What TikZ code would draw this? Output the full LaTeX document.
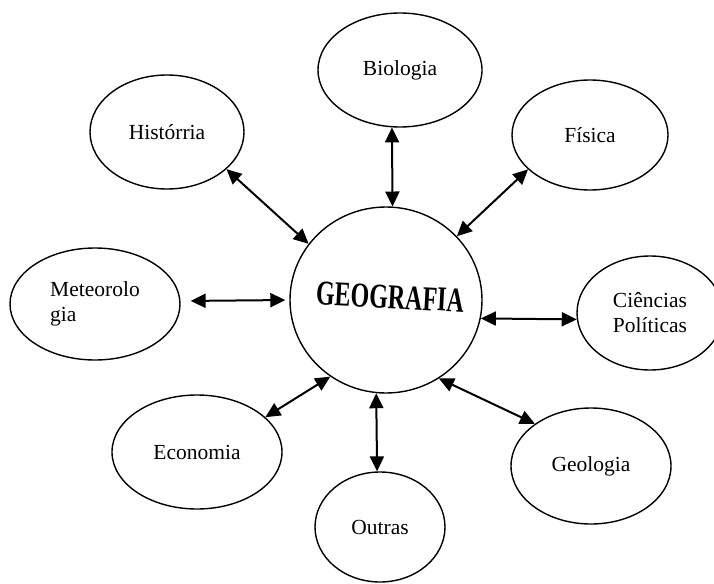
\documentclass[tikz,border=0pt]{standalone}
\usepackage{fontspec}
\setmainfont{Liberation Serif}
\usetikzlibrary{shapes.geometric,arrows.meta}
\begin{document}
\begin{tikzpicture}[x=1pt,y=-1pt,
  area/.style={ellipse,draw,line width=1.4pt,inner sep=0pt,font=\fontsize{21.5}{25}\selectfont},
  ligacao/.style={{Triangle[length=15pt,width=14pt]}-{Triangle[length=15pt,width=14pt]},line width=2pt}]
\useasboundingbox (0,0) rectangle (714,583);
% centro
\node[area,minimum width=192pt,minimum height=186pt] (geo) at (386,300) {};
\node[rotate=-3,font=\fontsize{24}{24}\bfseries\selectfont] (titulo) at (390,297) {\scalebox{1}[1.45]{GEOGRAFIA}};
% areas
\node[area,minimum width=164pt,minimum height=114pt] (bio) at (400,70) {Biologia};
\node[area,minimum width=154pt,minimum height=114pt] (his) at (167,132) {Histórria};
\node[area,minimum width=156pt,minimum height=110pt] (fis) at (590,135) {Física};
\node[area,minimum width=170pt,minimum height=112pt,align=left] (met) at (95,304) {Meteorolo\\gia};
\node[area,minimum width=146pt,minimum height=114pt,align=center] (cie) at (650,313) {Ciências\\Políticas};
\node[area,minimum width=170pt,minimum height=114pt] (eco) at (197,452) {Economia};
\node[area,minimum width=160pt,minimum height=116pt] (geol) at (591,466) {Geologia};
\node[area,minimum width=130pt,minimum height=110pt] (out) at (380,527) {Outras};
% ligacoes
\draw[ligacao] (bio.-98) -- (geo.86);
\draw[ligacao] (his.-32) -- (geo.144);
\draw[ligacao] (fis.-151) -- (geo.42);
\draw[ligacao,shorten <=10pt,shorten >=4pt] (met.2) -- (geo.180);
\draw[ligacao] (geo.-11) -- (cie.-175);
\draw[ligacao] (eco.27) -- (geo.-126);
\draw[ligacao] (geo.-96) -- (out.93);
\draw[ligacao] (geo.-56) -- (geol.143);
\end{tikzpicture}
\end{document}
